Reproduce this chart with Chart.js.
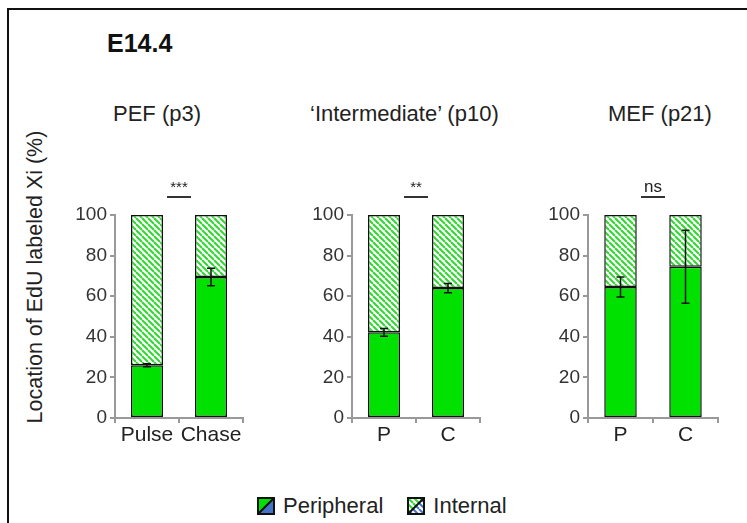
<!DOCTYPE html>
<html>
<head>
<meta charset="utf-8">
<script src="https://cdn.jsdelivr.net/npm/chart.js@4.4.0/dist/chart.umd.min.js"></script>
<style>
  body { margin: 0; width: 747px; height: 523px; background: #fff; overflow: hidden; position: relative;
         font-family: 'Liberation Sans', Arial, sans-serif; color: #222; }
  .frame { position: absolute; left: 7px; top: 8px; width: 800px; height: 600px;
           border-left: 2px solid #111; border-top: 2px solid #111; }
  .heading { position: absolute; left: 107px; top: 31px; font-size: 25px; line-height: 25px; font-weight: bold; color: #111; }
  .title { position: absolute; top: 103px; font-size: 22px; line-height: 22px; white-space: nowrap; }
  .ytitle { position: absolute; left: 35px; top: 277px; width: 340px; margin-left: -170px; margin-top: -12px;
            font-size: 21.5px; line-height: 24px; text-align: center; white-space: nowrap; transform: rotate(-90deg); }
  canvas.panel { position: absolute; top: 170px; }
  .legend { position: absolute; top: 493px; left: 257px; display: flex; align-items: center; font-size: 22px; }
  .legend canvas { margin-right: 8px; }
  .legend span { margin-right: 24px; }
</style>
</head>
<body>
<div class="frame"></div>
<div class="heading">E14.4</div>
<div class="ytitle">Location of EdU labeled Xi (%)</div>
<canvas id="c0" class="panel"></canvas>
<canvas id="c1" class="panel"></canvas>
<canvas id="c2" class="panel"></canvas>
<div class="legend">
  <canvas id="swPeripheral" width="18" height="18"></canvas><span>Peripheral</span>
  <canvas id="swInternal" width="18" height="18"></canvas><span>Internal</span>
</div>
<script>
// data
const panelTitles = ['PEF (p3)', '\u2018Intermediate\u2019 (p10)', 'MEF (p21)'];
const categories = [['Pulse', 'Chase'], ['P', 'C'], ['P', 'C']];
const peripheral = [[26, 69.5], [42.2, 64], [64.5, 74.5]];
const internal = [[74, 30.5], [57.8, 36], [35.5, 25.5]];
const peripheralErr = [[0.7, 4.3], [1.9, 2.3], [4.9, 18]];
const significance = ['***', '**', 'ns'];

// layout
const axisX = [115, 352, 588];
const plotW = [128, 128, 130];
const titleX = [113, 310, 608];
const yAxisW = 45;

const green = '#00e100';
const hatchGreen = '#2ed82e';
const blue = '#4472c4';

Chart.defaults.font.family = "'Liberation Sans', Arial, sans-serif";
Chart.defaults.color = '#333';

function hatch(color) {
  const p = 6;
  const c = document.createElement('canvas');
  c.width = p; c.height = p;
  const g = c.getContext('2d');
  g.fillStyle = '#fff';
  g.fillRect(0, 0, p, p);
  g.strokeStyle = color;
  g.lineWidth = 2;
  [-p, 0, p].forEach(o => {
    g.beginPath();
    g.moveTo(o, 0);
    g.lineTo(o + p, p);
    g.stroke();
  });
  return g.createPattern(c, 'repeat');
}

// error bars on the peripheral segment + significance mark above the pair
const errorBars = {
  id: 'errorBars',
  afterDatasetsDraw(chart, args, opts) {
    const ctx = chart.ctx;
    const x = chart.scales.x, y = chart.scales.y;
    ctx.save();
    ctx.strokeStyle = '#111';
    ctx.lineWidth = 1.5;
    opts.values.forEach((v, j) => {
      const px = x.getPixelForValue(j);
      const hi = y.getPixelForValue(v + opts.errors[j]);
      const lo = y.getPixelForValue(v - opts.errors[j]);
      ctx.beginPath();
      ctx.moveTo(px, hi); ctx.lineTo(px, lo);
      ctx.moveTo(px - 4, hi); ctx.lineTo(px + 4, hi);
      ctx.moveTo(px - 4, lo); ctx.lineTo(px + 4, lo);
      ctx.stroke();
    });
    const mid = (x.getPixelForValue(0) + x.getPixelForValue(1)) / 2;
    const top = y.getPixelForValue(100);
    ctx.strokeStyle = '#333';
    ctx.lineWidth = 2;
    ctx.beginPath();
    ctx.moveTo(mid - 12, top - 18);
    ctx.lineTo(mid + 12, top - 18);
    ctx.stroke();
    ctx.fillStyle = '#222';
    ctx.font = (opts.sig === 'ns' ? '17px' : '15px') + " 'Liberation Sans', Arial, sans-serif";
    ctx.textAlign = 'center';
    ctx.textBaseline = 'alphabetic';
    ctx.fillText(opts.sig, mid, top - 23);
    ctx.restore();
  }
};

panelTitles.forEach((title, i) => {
  const t = document.createElement('div');
  t.className = 'title';
  t.style.left = titleX[i] + 'px';
  t.textContent = title;
  document.body.appendChild(t);

  const canvas = document.getElementById('c' + i);
  const left = axisX[i] - yAxisW;
  canvas.width = yAxisW + plotW[i] + 8;
  canvas.height = 280;
  canvas.style.left = left + 'px';

  new Chart(canvas, {
    type: 'bar',
    data: {
      labels: categories[i],
      datasets: [
        {
          label: 'Peripheral',
          data: peripheral[i],
          backgroundColor: green,
          borderColor: '#111',
          borderWidth: 1.5,
          borderSkipped: false,
        },
        {
          label: 'Internal',
          data: internal[i],
          backgroundColor: hatch(hatchGreen),
          borderColor: '#111',
          borderWidth: 1.5,
          borderSkipped: false,
        },
      ],
    },
    options: {
      responsive: false,
      animation: false,
      layout: { padding: { top: 45, right: 8, bottom: 0, left: 0 } },
      datasets: { bar: { barPercentage: 0.5, categoryPercentage: 1 } },
      scales: {
        x: {
          stacked: true,
          afterFit: s => { s.height = 32; },
          grid: { drawOnChartArea: false, offset: true, tickLength: 5, color: '#999', lineWidth: 2 },
          border: { color: '#999', width: 2 },
          ticks: { font: { size: 21 }, color: '#222', padding: 0, maxRotation: 0, minRotation: 0, autoSkip: false },
        },
        y: {
          stacked: true,
          min: 0,
          max: 100,
          afterFit: s => { s.width = yAxisW; },
          grid: { drawOnChartArea: false, tickLength: 5, color: '#999', lineWidth: 2 },
          border: { color: '#999', width: 2 },
          ticks: { stepSize: 20, font: { size: 19 }, color: '#333', padding: 3 },
        },
      },
      plugins: {
        legend: { display: false },
        tooltip: { enabled: false },
        errorBars: { values: peripheral[i], errors: peripheralErr[i], sig: significance[i] },
      },
    },
    plugins: [errorBars],
  });
});

// legend swatches
function swatch(id, upper, lower) {
  const g = document.getElementById(id).getContext('2d');
  const s = 18;
  g.fillStyle = upper;
  g.beginPath(); g.moveTo(0, 0); g.lineTo(s, 0); g.lineTo(0, s); g.closePath(); g.fill();
  g.fillStyle = lower;
  g.beginPath(); g.moveTo(s, 0); g.lineTo(s, s); g.lineTo(0, s); g.closePath(); g.fill();
  g.strokeStyle = '#111';
  g.lineWidth = 2;
  g.strokeRect(1, 1, s - 2, s - 2);
  g.beginPath(); g.moveTo(0, s); g.lineTo(s, 0); g.stroke();
}
swatch('swPeripheral', green, blue);
swatch('swInternal', hatch(hatchGreen), hatch(blue));
</script>
</body>
</html>
